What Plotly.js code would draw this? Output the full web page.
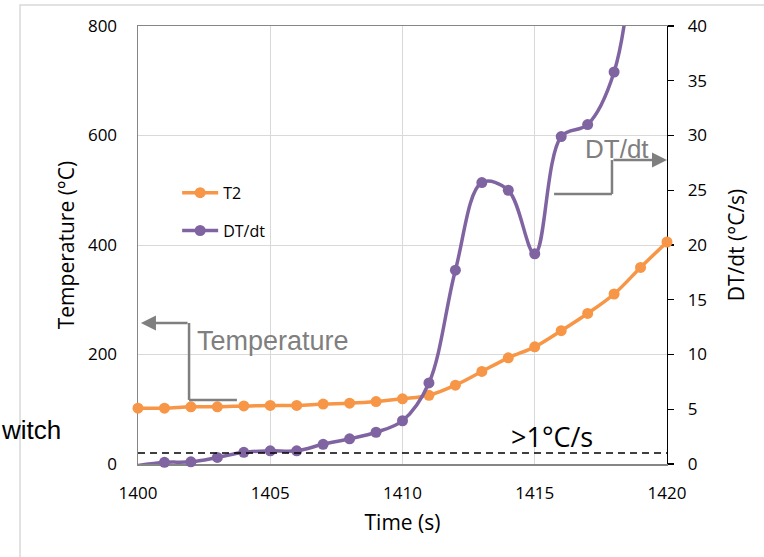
<!DOCTYPE html>
<html>
<head>
<meta charset="utf-8">
<script src="https://cdn.plot.ly/plotly-3.0.1.min.js"></script>
<style>
  html, body { margin: 0; padding: 0; background: #ffffff; }
  #chart { width: 764px; height: 557px; }
</style>
</head>
<body>
<div id="chart"></div>
<script>
// Time stamps (s)
const timeS = [1400, 1401, 1402, 1403, 1404, 1405, 1406, 1407, 1408, 1409, 1410,
               1411, 1412, 1413, 1414, 1415, 1416, 1417, 1418, 1419, 1420];

// T2 temperature (°C), left axis
const tempT2 = [102, 102, 104.5, 104.5, 106, 107, 107, 109.5, 111, 114, 119,
                125.5, 144, 169, 194, 214, 243.5, 275, 310.5, 359, 405.5];

// Heating rate DT/dt (°C/s), right axis
const rateDTdt = [-0.15, 0.15, 0.2, 0.6, 1.07, 1.2, 1.2, 1.8, 2.3, 2.9, 3.95,
                  7.4, 17.7, 25.7, 25.0, 19.2, 29.9, 31.0, 35.8, 52, 68];

// Threshold rate marked by the dashed line (°C/s)
const thresholdRate = 1;

// Axis ranges
const timeRange = [1400, 1420];
const tempRange = [0, 800];
const rateRange = [0, 40];

const seriesNames = ['T2', 'DT/dt'];
const tempTitle = 'Temperature (°C)';
const rateTitle = 'DT/dt (°C/s)';
const timeTitle = 'Time (s)';

const ORANGE = '#F79646';
const PURPLE = '#8064A2';
const GREY = '#7F7F7F';
const UI_FONT = 'Open Sans, Noto Sans, sans-serif';
const ARIAL = 'Liberation Sans, Arial, sans-serif';

const traces = [
  {
    x: timeS, y: tempT2, name: seriesNames[0], type: 'scatter', mode: 'lines+markers',
    yaxis: 'y', legendgroup: 'a', cliponaxis: false,
    line: { color: ORANGE, width: 3.5, shape: 'spline' },
    marker: { color: ORANGE, size: 11 }
  },
  {
    x: timeS, y: rateDTdt, name: seriesNames[1], type: 'scatter', mode: 'lines+markers',
    yaxis: 'y2', legendgroup: 'b', cliponaxis: false,
    line: { color: PURPLE, width: 3.5, shape: 'spline' },
    marker: { color: PURPLE, size: 11 }
  },
  {
    x: timeRange, y: [thresholdRate, thresholdRate], type: 'scatter', mode: 'lines',
    yaxis: 'y2', showlegend: false, hoverinfo: 'skip',
    line: { color: '#000000', width: 1.6, dash: '7px,5px' }
  }
];

// Elbow connectors for the axis call-outs (data coordinates)
const tempElbow = { x0: 1403.74, xm: 1401.93, tip: 1400.11, yLow: 117, yHigh: 257.5 };
const rateElbow = { x0: 1415.73, xm: 1417.92, tip: 1420, yLow: 24.66, yHigh: 27.76 };

const shapes = [
  // outer frame
  { type: 'rect', xref: 'paper', yref: 'paper', x0: -0.223, x1: 1.6, y0: -0.6, y1: 1.048,
    line: { color: '#D9D9D9', width: 1.5 }, layer: 'below' },
  { type: 'line', xref: 'x', yref: 'y', x0: tempElbow.x0, x1: tempElbow.xm, y0: tempElbow.yLow, y1: tempElbow.yLow,
    line: { color: GREY, width: 2.5 } },
  { type: 'line', xref: 'x', yref: 'y', x0: tempElbow.xm, x1: tempElbow.xm, y0: tempElbow.yLow, y1: tempElbow.yHigh,
    line: { color: GREY, width: 2.5 } },
  { type: 'line', xref: 'x', yref: 'y2', x0: rateElbow.x0, x1: rateElbow.xm, y0: rateElbow.yLow, y1: rateElbow.yLow,
    line: { color: GREY, width: 2.5 } },
  { type: 'line', xref: 'x', yref: 'y2', x0: rateElbow.xm, x1: rateElbow.xm, y0: rateElbow.yLow, y1: rateElbow.yHigh,
    line: { color: GREY, width: 2.5 } }
];

const annotations = [
  { xref: 'x', yref: 'y', axref: 'x', ayref: 'y', x: tempElbow.tip, y: tempElbow.yHigh,
    ax: tempElbow.xm, ay: tempElbow.yHigh, text: '', showarrow: true,
    arrowhead: 2, arrowwidth: 2.5, arrowsize: 1.2, arrowcolor: GREY, standoff: 0 },
  { xref: 'x', yref: 'y2', axref: 'x', ayref: 'y2', x: rateElbow.tip, y: rateElbow.yHigh,
    ax: rateElbow.xm, ay: rateElbow.yHigh, text: '', showarrow: true,
    arrowhead: 2, arrowwidth: 2.5, arrowsize: 1.2, arrowcolor: GREY, standoff: 0 },
  { xref: 'x', yref: 'y', x: 1405.1, y: 224.7, text: 'Temperature', showarrow: false,
    font: { family: ARIAL, size: 27, color: GREY } },
  { xref: 'x', yref: 'y2', x: 1418.1, y: 28.8, text: 'DT/dt', showarrow: false,
    font: { family: ARIAL, size: 26, color: GREY } },
  { xref: 'x', yref: 'y2', x: 1415.65, y: 2.47, text: '>1°C/s', showarrow: false,
    font: { family: UI_FONT, size: 27, color: '#000000' } },
  { xref: 'paper', yref: 'paper', x: -0.263, y: 0.0776, xanchor: 'left', yanchor: 'middle',
    text: 'witch', showarrow: false, font: { family: ARIAL, size: 26, color: '#000000' } }
];

const layout = {
  width: 764, height: 557,
  margin: { l: 138, r: 97, t: 26, b: 93 },
  paper_bgcolor: '#ffffff', plot_bgcolor: '#ffffff',
  font: { family: UI_FONT, color: '#000000' },
  showlegend: true,
  legend: {
    x: 0.074, y: 0.658, xanchor: 'left', yanchor: 'top',
    bgcolor: 'rgba(0,0,0,0)', font: { family: UI_FONT, size: 16, color: '#000000' },
    tracegroupgap: 14, traceorder: 'grouped', itemwidth: 36
  },
  xaxis: {
    range: timeRange, tick0: 1400, dtick: 5, ticks: '',
    showgrid: true, gridcolor: '#D9D9D9', gridwidth: 1, zeroline: false,
    showline: true, linecolor: '#868686', linewidth: 1.5, mirror: true,
    tickfont: { family: UI_FONT, size: 17, color: '#000000' },
    ticklabelstandoff: 13, layer: 'below traces',
    title: { text: timeTitle, font: { family: UI_FONT, size: 21, color: '#000000' }, standoff: 12 }
  },
  yaxis: {
    range: tempRange, dtick: 200, ticks: '',
    showgrid: true, gridcolor: '#D9D9D9', gridwidth: 1, zeroline: false,
    showline: true, linecolor: '#868686', linewidth: 1.5,
    tickfont: { family: UI_FONT, size: 17, color: '#000000' },
    ticklabelstandoff: 16, layer: 'below traces',
    title: { text: tempTitle, font: { family: UI_FONT, size: 21, color: '#000000' }, standoff: 7 }
  },
  yaxis2: {
    range: rateRange, dtick: 5, overlaying: 'y', side: 'right',
    showgrid: false, zeroline: false,
    showline: true, linecolor: '#000000', linewidth: 1.25,
    ticks: 'outside', ticklen: 6, tickwidth: 1.25, tickcolor: '#000000',
    tickfont: { family: UI_FONT, size: 17, color: '#000000' },
    ticklabelstandoff: 10, layer: 'below traces',
    title: { text: rateTitle, font: { family: UI_FONT, size: 21, color: '#000000' }, standoff: 23 }
  },
  shapes: shapes,
  annotations: annotations
};

Plotly.newPlot('chart', traces, layout, { displayModeBar: false, staticPlot: true });
</script>
</body>
</html>
